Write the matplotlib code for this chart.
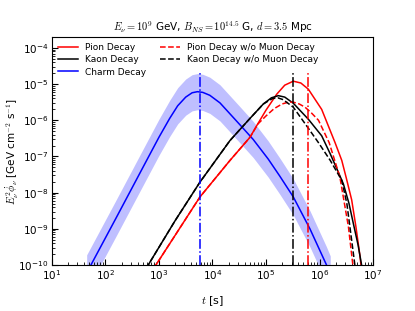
import numpy as np
import matplotlib
matplotlib.use('Agg')
import matplotlib.pyplot as plt

# curves, stored as log10(t [s]) and log10(E^2 phi)
charm_logt = [1.65, 2.2, 2.77, 3.0, 3.2, 3.35, 3.5, 3.62, 3.72, 3.82, 3.95, 4.14,
              4.51, 4.76, 5.04, 5.26, 5.51, 5.82, 6.13, 6.2]
charm_logf = [-10.22, -8.70, -7.11, -6.47, -5.95, -5.60, -5.36, -5.24, -5.21, -5.23,
              -5.31, -5.52, -6.12, -6.53, -7.07, -7.55, -8.12, -9.0, -10.0, -10.25]
charm_hi = [-9.72, -8.20, -6.61, -5.97, -5.45, -5.10, -4.86, -4.74, -4.71, -4.73,
            -4.81, -5.02, -5.62, -6.03, -6.57, -7.05, -7.62, -8.5, -9.5, -9.75]
charm_lo = [-10.72, -9.20, -7.61, -6.97, -6.45, -6.10, -5.86, -5.74, -5.71, -5.73,
            -5.81, -6.02, -6.62, -7.03, -7.57, -8.05, -8.62, -9.5, -10.5, -10.75]

kaon_logt = [2.76, 2.80, 3.30, 3.766, 4.327, 4.70, 4.95, 5.10, 5.23, 5.35, 5.51, 5.79,
             6.04, 6.20, 6.32, 6.445, 6.55, 6.632, 6.72, 6.789, 6.82]
kaon_logf = [-10.10, -10.0, -8.78, -7.71, -6.56, -5.95, -5.55, -5.38, -5.32, -5.36,
             -5.53, -5.97, -6.43, -6.93, -7.33, -7.76, -8.30, -8.86, -9.45, -10.03, -10.3]

kaon_nomu_logt = [2.76, 2.80, 3.30, 3.766, 4.327, 4.70, 4.95, 5.12, 5.22, 5.32, 5.51,
                  5.79, 5.98, 6.20, 6.415, 6.51, 6.60, 6.664, 6.68]
kaon_nomu_logf = [-10.10, -10.0, -8.78, -7.71, -6.56, -5.95, -5.55, -5.40, -5.38, -5.43,
                  -5.64, -6.22, -6.62, -7.11, -7.66, -8.30, -9.32, -10.05, -10.3]

pion_logt = [2.90, 2.944, 3.766, 4.327, 4.701, 4.826, 5.0, 5.2, 5.35, 5.51, 5.65, 5.79,
             6.04, 6.29, 6.415, 6.50, 6.60, 6.68, 6.75, 6.79]
pion_logf = [-10.10, -10.0, -8.12, -7.11, -6.47, -6.15, -5.72, -5.28, -5.03, -4.92,
             -4.97, -5.14, -5.70, -6.62, -7.11, -7.6, -8.2, -8.95, -9.7, -10.2]

pion_nomu_logt = [2.90, 2.944, 3.766, 4.327, 4.701, 4.85, 5.0, 5.15, 5.30, 5.42, 5.51,
                  5.62, 5.73, 5.85, 5.98, 6.18, 6.38, 6.54, 6.63, 6.65]
pion_nomu_logf = [-10.10, -10.0, -8.12, -7.11, -6.47, -6.10, -5.88, -5.68, -5.55, -5.50,
                  -5.50, -5.55, -5.64, -5.80, -6.0, -6.62, -7.57, -8.95, -10.1, -10.3]

# peak times (vertical dash-dot markers)
t_charm_peak = 5.84e3
t_kaon_peak = 3.13e5
t_pion_peak = 6.2e5
vline_top = 2e-5


def tf(logt, logf):
    return 10 ** np.array(logt), 10 ** np.array(logf)


fig = plt.figure(figsize=(4.15, 3.11), dpi=100)
ax = fig.add_axes([0.125, 0.148, 0.774, 0.733])

t, f = tf(pion_logt, pion_logf)
ax.plot(t, f, color='r', lw=1.1, label='Pion Decay')
t, f = tf(kaon_logt, kaon_logf)
ax.plot(t, f, color='k', lw=1.1, label='Kaon Decay')
t, f = tf(charm_logt, charm_logf)
ax.plot(t, f, color='b', lw=1.1, label='Charm Decay')
ax.fill_between(t, 10 ** np.array(charm_lo), 10 ** np.array(charm_hi),
                color='b', alpha=0.25, lw=0)
t, f = tf(pion_nomu_logt, pion_nomu_logf)
ax.plot(t, f, color='r', lw=1.1, ls='--', label='Pion Decay w/o Muon Decay')
t, f = tf(kaon_nomu_logt, kaon_nomu_logf)
ax.plot(t, f, color='k', lw=1.1, ls='--', label='Kaon Decay w/o Muon Decay')

ax.vlines(t_charm_peak, 1e-10, vline_top, colors='b', linestyles='-.', lw=1.1)
ax.vlines(t_kaon_peak, 1e-10, vline_top, colors='k', linestyles='-.', lw=1.1)
ax.vlines(t_pion_peak, 1e-10, vline_top, colors='r', linestyles='-.', lw=1.1)

ax.set_xscale('log')
ax.set_yscale('log')
ax.set_xlim(1e1, 1e7)
ax.set_ylim(1e-10, 2e-4)
ax.set_yticks([1e-10, 1e-9, 1e-8, 1e-7, 1e-6, 1e-5, 1e-4])
ax.tick_params(which='both', direction='in', top=False, right=False, labelsize=7.5)
ax.tick_params(which='major', length=4, pad=2.5)
ax.tick_params(which='minor', length=2)

ax.set_title(r'$E_\nu = 10^9$ GeV, $B_{NS} = 10^{14.5}$ G, $d = 3.5$ Mpc',
             fontsize=7.5, math_fontfamily='cm', pad=4)
ax.set_xlabel(r'$t$ [s]', fontsize=8, math_fontfamily='cm')
ax.xaxis.set_label_coords(0.5, -0.13)
ax.set_ylabel(r'$E_\nu^2\dot{\phi}_\nu$ [GeV cm$^{-2}$ s$^{-1}$]', fontsize=7.5,
              math_fontfamily='cm')
ax.yaxis.set_label_coords(-0.095, 0.5)

ax.legend(ncol=2, loc='upper left', frameon=False, fontsize=6.5,
          handlelength=2.2, columnspacing=1.5, borderaxespad=0.3, labelspacing=0.35)

fig.savefig('out.png', dpi=100)
